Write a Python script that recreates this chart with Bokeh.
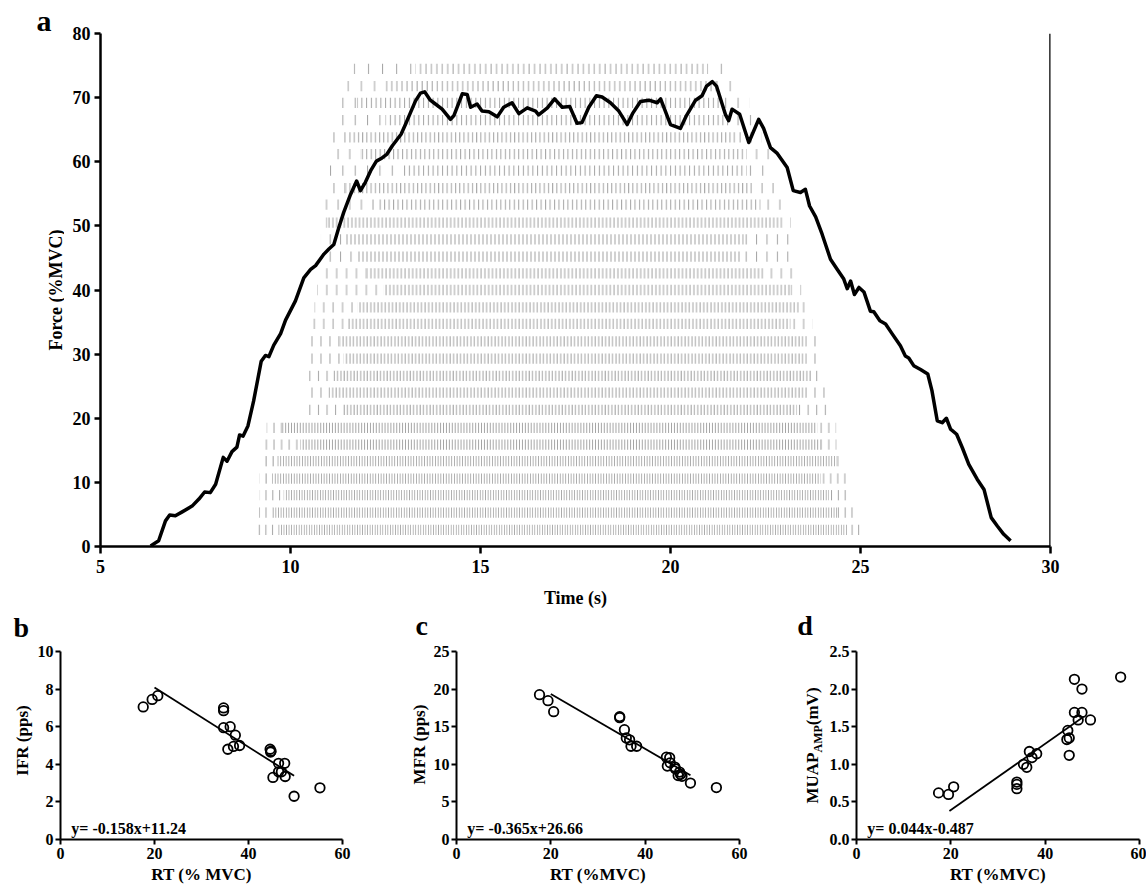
import numpy as np
from bokeh.plotting import figure
from bokeh.layouts import column, row
from bokeh.models import (FixedTicker, PrintfTickFormatter, Span, Label, Range1d,
                          ColumnDataSource)
from bokeh.core.properties import value
from bokeh.embed import file_html
from bokeh.resources import INLINE

# ---------------- data: panel a ----------------
force_t = [6.32, 6.53, 6.71, 6.82, 6.97, 7.15, 7.41, 7.59, 7.74, 7.89, 8.03, 8.23, 8.33,
           8.46, 8.59, 8.66, 8.75, 8.88, 9.03, 9.23, 9.34, 9.43, 9.56, 9.74, 9.87, 10.13,
           10.35, 10.53, 10.66, 10.88, 11.01, 11.14, 11.27, 11.40, 11.58, 11.74, 11.84,
           11.97, 12.11, 12.26, 12.41, 12.54, 12.68, 12.81, 12.91, 13.03, 13.16, 13.29,
           13.42, 13.53, 13.68, 13.77, 13.99, 14.21, 14.30, 14.52, 14.65, 14.74, 14.91,
           15.04, 15.22, 15.44, 15.61, 15.83, 16.01, 16.23, 16.45, 16.53, 16.76, 16.95,
           17.15, 17.35, 17.54, 17.67, 17.85, 18.05, 18.20, 18.42, 18.64, 18.86, 19.00,
           19.21, 19.43, 19.65, 19.74, 20.00, 20.26, 20.42, 20.66, 20.83, 20.95, 21.10,
           21.21, 21.45, 21.53, 21.62, 21.82, 22.06, 22.32, 22.45, 22.63, 22.81, 23.07,
           23.23, 23.42, 23.55, 23.66, 23.82, 23.99, 24.21, 24.39, 24.56, 24.65, 24.74,
           24.84, 24.96, 25.09, 25.17, 25.26, 25.35, 25.51, 25.66, 25.83, 26.05, 26.18,
           26.27, 26.40, 26.58, 26.77, 26.88, 27.02, 27.15, 27.26, 27.37, 27.53, 27.68,
           27.85, 28.07, 28.25, 28.44, 28.60, 28.77, 28.95]
force_v = [0.1, 0.9, 4.0, 4.9, 4.8, 5.4, 6.3, 7.4, 8.5, 8.4, 9.7, 13.9, 13.3,
           14.8, 15.5, 17.4, 17.2, 18.8, 22.7, 28.9, 29.8, 29.6, 31.4, 33.2, 35.3, 38.3,
           41.9, 43.2, 43.8, 45.6, 46.4, 47.1, 49.7, 52.1, 54.9, 57.0, 55.5,
           56.8, 58.6, 60.1, 60.6, 61.2, 62.5, 63.5, 64.3, 65.9, 67.7, 69.5,
           70.7, 70.9, 69.6, 69.2, 68.2, 66.6, 67.2, 70.6, 70.5, 68.5, 69.0,
           67.9, 67.8, 67.0, 68.5, 69.2, 67.5, 68.4, 67.9, 67.3, 68.4, 69.8,
           68.5, 68.6, 66.0, 66.1, 68.5, 70.3, 70.1, 69.2, 67.9, 65.8, 67.5,
           69.4, 69.6, 69.2, 69.8, 65.8, 65.2, 67.2, 69.6, 70.3, 71.8, 72.5,
           71.8, 67.3, 66.4, 68.2, 67.4, 63.0, 66.6, 65.2, 62.2, 61.3, 59.1,
           55.5, 55.2, 55.7, 53.1, 51.4, 48.7, 44.8, 43.2, 41.7, 40.2, 41.4,
           39.3, 40.4, 39.7, 38.3, 36.7, 36.6, 35.2, 34.7, 33.2, 31.3, 29.7,
           29.4, 28.2, 27.6, 26.9, 24.3, 19.6, 19.3, 20.0, 18.3, 17.5, 15.4,
           12.8, 10.5, 8.9, 4.5, 3.2, 1.9, 0.9]

# motor-unit spike-train rows (top -> bottom)
row_level = [74.5, 71.8, 69.2, 66.5, 63.8, 61.2, 58.6, 55.9, 53.3, 50.5, 47.9, 45.2,
             42.6, 40.0, 37.3, 34.7, 32.0, 29.3, 26.6, 24.0, 21.3, 18.5, 15.9, 13.3,
             10.6, 8.0, 5.3, 2.6]
row_start = [11.66, 11.49, 11.23, 11.18, 11.01, 11.01, 11.01, 10.92, 10.86, 10.80, 10.80,
             10.92, 10.76, 10.70, 10.63, 10.57, 10.51, 10.44, 10.42, 10.38, 10.38, 9.37,
             9.30, 9.24, 9.19, 9.19, 9.17, 9.11]
row_dense_start = [13.29, 12.45, 11.75, 12.50, 11.49, 11.84, 12.97, 11.45, 12.30, 10.97,
                   11.45, 11.75, 12.02, 12.45, 11.75, 11.50, 11.30, 11.40, 11.13, 11.00,
                   11.40, 9.78, 10.26, 9.65, 9.52, 9.82, 9.52, 9.65]
row_dense_end = [20.96, 21.23, 21.32, 21.58, 21.75, 22.00, 22.00, 22.10, 22.37, 22.89,
                 21.93, 21.84, 22.46, 23.16, 23.38, 23.16, 23.55, 23.55, 23.72, 23.60,
                 23.33, 23.86, 23.95, 24.40, 23.95, 24.17, 24.39, 24.65]
row_end = [21.66, 21.86, 22.09, 22.15, 22.39, 22.61, 22.63, 22.92, 22.96, 23.17, 23.20,
           23.26, 23.33, 23.44, 23.62, 23.73, 23.84, 23.89, 23.97, 24.08, 24.12, 24.36,
           24.37, 24.46, 24.63, 24.71, 24.84, 25.06]
row_rate = [7.0, 7.5, 8.0, 8.0, 9.0, 8.5, 8.0, 9.0, 8.5, 10.0, 9.5, 9.5, 10.0, 10.0,
            10.5, 10.5, 11.0, 11.0, 11.5, 11.0, 11.5, 13.0, 13.0, 14.0, 14.0, 14.5,
            14.5, 15.0]

y_ticks_a = [0, 10, 20, 30, 40, 50, 60, 70, 80]
x_ticks_a = [5, 10, 15, 20, 25, 30]

# ---------------- data: panels b, c, d ----------------
b_rt = [17.6, 19.5, 20.7, 34.7, 34.7, 34.7, 36.1, 35.6, 37.2, 36.8, 38.1, 44.6, 44.7,
        44.8, 46.4, 47.7, 45.2, 46.4, 47.0, 47.8, 49.7, 55.2]
b_ifr = [7.05, 7.45, 7.65, 7.0, 6.85, 5.95, 6.0, 4.8, 5.55, 4.95, 5.0, 4.8, 4.65,
         4.7, 4.05, 4.05, 3.3, 3.6, 3.6, 3.35, 2.3, 2.75]
c_rt = [17.6, 19.4, 20.6, 34.6, 34.6, 35.6, 36.0, 36.7, 37.0, 38.2, 44.5, 45.2, 44.7,
        45.3, 46.3, 46.4, 47.3, 47.5, 47.0, 47.8, 49.6, 55.1]
c_mfr = [19.26, 18.46, 17.0, 16.34, 16.2, 14.6, 13.5, 13.25, 12.4, 12.4, 10.95, 10.87,
         9.76, 10.2, 9.63, 9.4, 8.97, 8.66, 8.5, 8.4, 7.5, 6.9]
d_rt = [17.4, 19.5, 20.6, 34.0, 34.0, 34.0, 35.4, 36.1, 36.65, 37.2, 38.2, 44.8, 44.6,
        45.1, 45.1, 46.2, 46.2, 47.0, 47.8, 47.8, 49.6, 56.0]
d_amp = [0.62, 0.60, 0.70, 0.764, 0.733, 0.676, 1.0, 0.96, 1.17, 1.09, 1.14, 1.45, 1.33,
         1.35, 1.12, 2.13, 1.69, 1.59, 1.69, 2.0, 1.59, 2.16]

b_fit = (-0.158, 11.24, 20.0, 49.7)
c_fit = (-0.365, 26.66, 20.0, 49.6)
d_fit = (0.044, -0.487, 19.7, 48.0)
b_eq = "y= -0.158x+11.24"
c_eq = "y= -0.365x+26.66"
d_eq = "y= 0.044x-0.487"

b_yticks = [0, 2, 4, 6, 8, 10]
c_yticks = [0, 5, 10, 15, 20, 25]
d_yticks = [0.0, 0.5, 1.0, 1.5, 2.0, 2.5]
rt_ticks = [0, 20, 40, 60]

# ---------------- styling helpers ----------------
FONT = "Liberation Serif"


def style_axes(fig, tick_size, label_size, lw):
    for ax in fig.axis:
        ax.axis_line_width = lw
        ax.axis_line_color = "black"
        ax.major_tick_line_width = lw
        ax.major_tick_line_color = "black"
        ax.minor_tick_line_color = None
        ax.major_tick_in = 0
        ax.major_label_text_font = FONT
        ax.major_label_text_font_style = "bold"
        ax.major_label_text_font_size = tick_size
        ax.major_label_text_color = "black"
        ax.axis_label_text_font = FONT
        ax.axis_label_text_font_style = "bold"
        ax.axis_label_text_font_size = label_size
        ax.axis_label_text_color = "black"
    fig.grid.visible = False
    fig.outline_line_color = None
    fig.background_fill_color = "white"
    fig.border_fill_color = "white"


def strip(w, h):
    """Blank figure whose frame is the whole canvas (1 data unit = 1 px, y from bottom)."""
    s = figure(width=w, height=h, x_range=Range1d(0, w), y_range=Range1d(0, h),
               output_backend="svg", toolbar_location=None, title=None,
               x_axis_location=None, y_axis_location=None, min_border=0)
    s.grid.visible = False
    s.outline_line_color = None
    s.background_fill_color = "white"
    s.border_fill_color = "white"
    return s


def put_text(s, x, y, txt, size, angle=0.0, align="left", baseline="alphabetic"):
    s.text(x=[x], y=[y], text=[txt], angle=angle, text_font=value(FONT),
           text_font_style="bold", text_font_size=size, text_color="black",
           text_align=align, text_baseline=baseline)


TOP_H = 610
BOT_H = 277
WIN_H = 887

# ---------------- panel a ----------------
sa = strip(64, TOP_H)
put_text(sa, 36, TOP_H - 20, "a", "30px")
put_text(sa, 55, TOP_H - 289.5, "Force (%MVC)", "18px", angle=np.pi / 2,
         align="center", baseline="middle")

p = figure(width=1146 - 64, height=TOP_H, x_range=Range1d(5, 30), y_range=Range1d(0, 80),
           output_backend="svg", toolbar_location=None, title=None,
           min_border_left=36, min_border_right=96, min_border_top=33,
           min_border_bottom=64)
style_axes(p, "18px", "18px", 2.5)
p.xaxis.ticker = FixedTicker(ticks=x_ticks_a)
p.yaxis.ticker = FixedTicker(ticks=y_ticks_a)
p.xaxis.major_tick_out = 7
p.yaxis.major_tick_out = 6
p.xaxis.major_label_standoff = 6
p.yaxis.major_label_standoff = 4
p.xaxis.axis_label = "Time (s)"
p.xaxis.axis_label_standoff = 12

px_per_s = 950 / (30 - 5)
SPARSE = 2.6


def seg_source(a_list, b_list, factor):
    return ColumnDataSource(dict(
        x=[(a + b) / 2 for a, b in zip(a_list, b_list)],
        w=[max(b - a, 0.0) for a, b in zip(a_list, b_list)],
        y=row_level,
        scale=[factor * px_per_s / r for r in row_rate],
    ))


for src in (seg_source(row_dense_start, row_dense_end, 1.0),
            seg_source(row_start, row_dense_start, SPARSE),
            seg_source(row_dense_end, row_end, SPARSE)):
    p.rect(x="x", y="y", width="w", height=1.6, source=src, fill_color=None,
           line_color=None, hatch_pattern="vertical_line", hatch_color="#a3a3a3",
           hatch_weight=1, hatch_scale="scale")

p.line(force_t, force_v, line_color="black", line_width=3.5, line_join="round")
p.add_layout(Span(location=30, dimension="height", line_color="black", line_width=2.5))


# ---------------- panels b, c, d ----------------
def small_panel(width, left, right, yr, yticks, rt, val, fit, eq, xlabel, fmt=None):
    f = figure(width=width, height=BOT_H, x_range=Range1d(0, 60), y_range=Range1d(*yr),
               output_backend="svg", toolbar_location=None, title=None,
               min_border_left=left, min_border_right=right, min_border_top=41,
               min_border_bottom=48)
    style_axes(f, "16px", "17px", 2)
    f.xaxis.ticker = FixedTicker(ticks=rt_ticks)
    f.yaxis.ticker = FixedTicker(ticks=yticks)
    if fmt:
        f.yaxis.formatter = PrintfTickFormatter(format=fmt)
    for ax in f.axis:
        ax.major_tick_out = 5
        ax.major_label_standoff = 3
        ax.axis_label_standoff = 3
    f.yaxis.major_label_standoff = 2
    f.xaxis.axis_label = xlabel
    slope, icpt, x0, x1 = fit
    f.line([x0, x1], [slope * x0 + icpt, slope * x1 + icpt], line_color="black",
           line_width=1.8)
    f.scatter(rt, val, marker="circle", size=9.5, fill_color=None, line_color="black",
              line_width=1.8)
    yspan = yr[1] - yr[0]
    f.add_layout(Label(x=2.3, y=yr[0] + yspan * 0.06, text=eq, text_font=FONT,
                       text_font_style="bold", text_font_size="16px",
                       text_color="black", text_baseline="middle"))
    return f


def yb(y_screen):
    # window y (from top) -> bottom strip data y (from bottom of window)
    return WIN_H - y_screen


sb = strip(34, BOT_H)
put_text(sb, 13, yb(627), "b", "28px")
put_text(sb, 21.5, yb(740), "IFR (pps)", "17px", angle=np.pi / 2, align="center",
         baseline="middle")
pb = small_panel(346, 25, 38, (0, 10), b_yticks, b_rt, b_ifr, b_fit, b_eq, "RT (% MVC)")

sc = strip(50, BOT_H)
put_text(sc, 35, yb(625), "c", "28px")
put_text(sc, 39, yb(744), "MFR (pps)", "17px", angle=np.pi / 2, align="center",
         baseline="middle")
pc = small_panel(330, 26, 21, (0, 25), c_yticks, c_rt, c_mfr, c_fit, c_eq, "RT (%MVC)")

sd = strip(66, BOT_H)
put_text(sd, 36.7, yb(625), "d", "28px")
# MUAP with subscript AMP, then " (mV)", reading upwards
put_text(sd, 52, yb(803), "MUAP", "17px", angle=np.pi / 2, baseline="middle")
put_text(sd, 57, yb(803) + 51, "AMP", "12px", angle=np.pi / 2, baseline="middle")
put_text(sd, 52, yb(803) + 51 + 27.3, " (mV)", "17px", angle=np.pi / 2,
         baseline="middle")
pd = small_panel(320, 30, 7, (0, 2.5), d_yticks, d_rt, d_amp, d_fit, d_eq, "RT (%MVC)",
                 fmt="%.1f")

# each label strip is wrapped in its own column so its frame is not aligned
# with the neighbouring plot's frame
layout = column(row(column(sa), p, spacing=0),
                row(column(sb), pb, column(sc), pc, column(sd), pd, spacing=0),
                spacing=0)

open("out.html", "w").write(file_html(layout, INLINE))
